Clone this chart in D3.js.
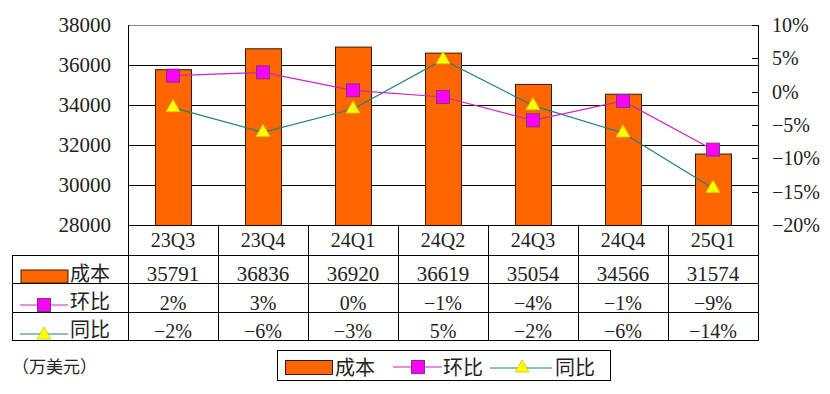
<!DOCTYPE html>
<html><head><meta charset="utf-8">
<script src="https://cdn.jsdelivr.net/npm/d3@7"></script>
<style>
html,body{margin:0;padding:0;background:#fff;}
svg{display:block;}
text{font-family:"Liberation Serif","Noto Sans CJK SC",serif;fill:#222;}
.cjk{font-family:"Noto Sans CJK SC",sans-serif;}
</style></head>
<body><svg id="c" width="830" height="394"></svg>
<script>
const categories = ["23Q3","23Q4","24Q1","24Q2","24Q3","24Q4","25Q1"];
const cost = [35791,36836,36920,36619,35054,34566,31574];
const qoq = [2.4,2.9,0.2,-0.8,-4.3,-1.4,-8.7];
const yoy = [-2.4,-6.1,-2.6,4.8,-2.1,-6.2,-14.5];
const qoqLabels = ["2%","3%","0%","−1%","−4%","−1%","−9%"];
const yoyLabels = ["−2%","−6%","−3%","5%","−2%","−6%","−14%"];
const leftTicks = [28000,30000,32000,34000,36000,38000];
const rightTicks = [-20,-15,-10,-5,0,5,10];
const seriesNames = ["成本","环比","同比"];
const unitLabel = "（万美元）";

const svg = d3.select("#c");
const L = 128, R = 758, T = 25, B = 225;
const x = d3.scaleBand().domain(categories).range([L,R]).paddingInner(0.6).paddingOuter(0.3);
const yL = d3.scaleLinear().domain([28000,38000]).range([B,T]);
const yR = d3.scaleLinear().domain([-20,10]).range([B,T]);
const cx = c => x(c) + x.bandwidth()/2;

const ORANGE="#FF6600", MAG="#FF00FF", MAGL="#CC22CC", TEAL="#1F7F7F", YEL="#FFFF00";

// gridlines
svg.append("g").selectAll("line").data(leftTicks.filter(t=>t>28000 && t<38000)).join("line")
  .attr("x1",L).attr("x2",R).attr("y1",d=>Math.round(yL(d))+0.5).attr("y2",d=>Math.round(yL(d))+0.5)
  .attr("stroke","#000").attr("stroke-width",1);
// top border
svg.append("line").attr("x1",L).attr("x2",R).attr("y1",T+0.5).attr("y2",T+0.5).attr("stroke","#888");

// left axis labels
svg.append("g").selectAll("text").data(leftTicks).join("text")
  .attr("x",111).attr("y",d=>yL(d)).attr("dy","0.35em").attr("text-anchor","end")
  .attr("font-size",21).text(d=>d);
// right axis ticks + labels
svg.append("g").selectAll("line").data(rightTicks).join("line")
  .attr("x1",R-6).attr("x2",R).attr("y1",d=>Math.round(yR(d))+0.5).attr("y2",d=>Math.round(yR(d))+0.5)
  .attr("stroke","#000");
svg.append("g").selectAll("text").data(rightTicks).join("text")
  .attr("x",772).attr("y",d=>yR(d)).attr("dy","0.35em").attr("font-size",20)
  .text(d=>(d<0?"−"+(-d):d)+"%");

// bars
svg.append("g").selectAll("rect").data(categories).join("rect")
  .attr("x",d=>x(d)+0.5).attr("width",x.bandwidth())
  .attr("y",(d,i)=>yL(cost[i])+0.5).attr("height",(d,i)=>B-yL(cost[i]))
  .attr("fill",ORANGE).attr("stroke","#3a1a00").attr("stroke-width",1);

// lines
const lineQ = d3.line().x((d,i)=>cx(categories[i])).y(d=>yR(d));
svg.append("path").attr("d",lineQ(yoy)).attr("fill","none").attr("stroke",TEAL).attr("stroke-width",1.2);
svg.append("path").attr("d",lineQ(qoq)).attr("fill","none").attr("stroke",MAGL).attr("stroke-width",1.2);

const tri = d3.symbol().type(d3.symbolTriangle).size(85);
svg.append("g").selectAll("path").data(yoy).join("path")
  .attr("d",tri).attr("transform",(d,i)=>`translate(${cx(categories[i])},${yR(d)})`)
  .attr("fill",YEL).attr("stroke","#C8C800").attr("stroke-width",0.8);
svg.append("g").selectAll("rect").data(qoq).join("rect")
  .attr("x",(d,i)=>cx(categories[i])-6.5).attr("y",d=>yR(d)-6.5).attr("width",13).attr("height",13)
  .attr("fill",MAG).attr("stroke","#7A3A7A").attr("stroke-width",1);

// frame lines
svg.append("line").attr("x1",L+0.5).attr("x2",L+0.5).attr("y1",T).attr("y2",340.5).attr("stroke","#000");
svg.append("line").attr("x1",R+0.5).attr("x2",R+0.5).attr("y1",T).attr("y2",340.5).attr("stroke","#000");

// table
const rowsY = [255,283,312,340];
svg.append("line").attr("x1",L).attr("x2",R).attr("y1",B+0.5).attr("y2",B+0.5).attr("stroke","#000");
svg.append("g").selectAll("line").data(rowsY).join("line")
  .attr("x1",12).attr("x2",R+1).attr("y1",d=>d+0.5).attr("y2",d=>d+0.5).attr("stroke","#000");
svg.append("line").attr("x1",12.5).attr("x2",12.5).attr("y1",255).attr("y2",340.5).attr("stroke","#000");
svg.append("g").selectAll("line").data(categories.slice(1)).join("line")
  .attr("x1",d=>Math.round(x(d)-x.bandwidth()*0.75)+0.5).attr("x2",d=>Math.round(x(d)-x.bandwidth()*0.75)+0.5)
  .attr("y1",B).attr("y2",340.5).attr("stroke","#000");

svg.append("g").selectAll("text").data(categories).join("text")
  .attr("x",d=>cx(d)).attr("y",247).attr("text-anchor","middle").attr("font-size",20).text(d=>d);
svg.append("g").selectAll("text").data(cost).join("text")
  .attr("x",(d,i)=>cx(categories[i])).attr("y",281).attr("text-anchor","middle").attr("font-size",21).text(d=>d);
svg.append("g").selectAll("text").data(qoqLabels).join("text")
  .attr("x",(d,i)=>cx(categories[i])).attr("y",310).attr("text-anchor","middle").attr("font-size",20).text(d=>d);
svg.append("g").selectAll("text").data(yoyLabels).join("text")
  .attr("x",(d,i)=>cx(categories[i])).attr("y",338).attr("text-anchor","middle").attr("font-size",20).text(d=>d);

// table legend keys
svg.append("rect").attr("x",21).attr("y",270).attr("width",47).attr("height",13).attr("fill",ORANGE).attr("stroke","#3a1a00");
svg.append("line").attr("x1",20).attr("x2",68).attr("y1",305).attr("y2",305).attr("stroke",MAGL);
svg.append("rect").attr("x",37.5).attr("y",298.5).attr("width",13).attr("height",13).attr("fill",MAG).attr("stroke","#7A3A7A");
svg.append("line").attr("x1",20).attr("x2",68).attr("y1",334).attr("y2",334).attr("stroke",TEAL);
svg.append("path").attr("d",tri).attr("transform","translate(44,335)").attr("fill",YEL).attr("stroke","#C8C800").attr("stroke-width",0.8);
[[281,0],[309,1],[337,2]].forEach(([yy,k])=>{
  svg.append("text").attr("class","cjk").attr("x",70).attr("y",yy).attr("font-size",20).text(seriesNames[k]);
});

// unit label
svg.append("text").attr("class","cjk").attr("x",12).attr("y",373).attr("font-size",17).text(unitLabel);

// bottom legend
svg.append("rect").attr("x",277.5).attr("y",350.5).attr("width",333).attr("height",30).attr("fill","none").attr("stroke","#000");
svg.append("rect").attr("x",285.5).attr("y",360.5).attr("width",47).attr("height",14).attr("fill",ORANGE).attr("stroke","#3a1a00");
svg.append("text").attr("class","cjk").attr("x",335).attr("y",375).attr("font-size",20).text(seriesNames[0]);
svg.append("line").attr("x1",393).attr("x2",442).attr("y1",367).attr("y2",367).attr("stroke",MAGL);
svg.append("rect").attr("x",411.5).attr("y",360.5).attr("width",13).attr("height",13).attr("fill",MAG).attr("stroke","#7A3A7A");
svg.append("text").attr("class","cjk").attr("x",443).attr("y",375).attr("font-size",20).text(seriesNames[1]);
svg.append("line").attr("x1",490).attr("x2",552).attr("y1",368).attr("y2",368).attr("stroke",TEAL);
svg.append("path").attr("d",tri).attr("transform","translate(522,368)").attr("fill",YEL).attr("stroke","#C8C800").attr("stroke-width",0.8);
svg.append("text").attr("class","cjk").attr("x",555).attr("y",375).attr("font-size",20).text(seriesNames[2]);
</script></body></html>
